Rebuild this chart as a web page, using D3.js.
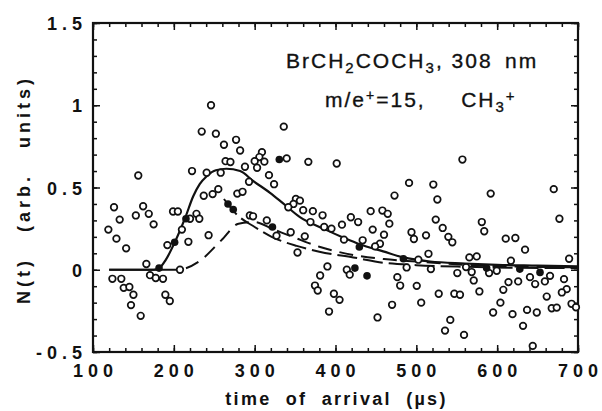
<!DOCTYPE html>
<html>
<head>
<meta charset="utf-8">
<script src="https://cdn.jsdelivr.net/npm/d3@7"></script>
<style>
  body { margin: 0; background: #fff; }
  svg { display: block; font-family: "Liberation Sans", Arial, sans-serif; }
  .tick-label { font-weight: bold; font-size: 18px; letter-spacing: 5px; fill: #111; }
  .axis-title { font-weight: bold; font-size: 18px; letter-spacing: 2.3px; word-spacing: 7px; fill: #111; }
  .note { font-size: 21px; letter-spacing: 2px; fill: #111; stroke: #111; stroke-width: 0.35px; }
</style>
</head>
<body>
<div class="chart"></div>
<script>
const svgWidth = 602;
const svgHeight = 411;

const margin = { top: 23, right: 24, bottom: 59, left: 93 };
const width = svgWidth - margin.left - margin.right;
const height = svgHeight - margin.top - margin.bottom;

// open circles (time of arrival, N(t))
const openT = [119, 126, 133, 129, 141, 153, 156, 162, 169, 175, 199, 205, 192, 210, 218, 166, 124, 135, 138, 145,
  150, 147, 159, 170.5, 177.6, 186.6, 189.5, 195, 207.6, 220, 228, 231.5, 243, 246, 234.5, 252, 262, 277, 282, 336,
  339.6, 309, 305.8, 300, 312, 303, 288, 264, 270, 317.7, 324, 293, 222.5, 240.6, 258, 237, 248, 255, 278.5, 285,
  294, 298, 315, 327, 344.6, 353, 351, 348, 341.6, 366.4, 401.5, 491, 521, 526, 473, 356, 360, 372, 384, 369,
  386, 395, 408, 419, 428, 443.5, 458, 464.6, 466.6, 446, 460, 455, 449, 433.6, 410.5, 362, 494, 497, 512, 524,
  515, 502.5, 518, 488, 390, 381, 374.6, 378, 398, 405, 392, 414, 417.6, 452, 470, 476.5, 480, 500.5, 506, 527.7,
  557, 592, 670, 677, 532.6, 539.6, 544.5, 581, 584, 610.6, 622.5, 634.5, 689, 565.6, 574.7, 617, 550.7, 561.5, 568.5, 571,
  590, 599.5, 578, 614, 626, 607.6, 640.6, 647, 659, 665.4, 682.7, 686, 680, 661.3, 547, 554, 604, 595, 619, 637,
  649, 667.5, 673.7, 692, 697.5, 542, 535.5, 559, 632, 644];
const openN = [0.244, 0.38, 0.305, 0.189, 0.13, 0.33, 0.573, 0.386, 0.34, 0.276, 0.354, 0.354, 0.15, 0.244, 0.17, 0.035, -0.055, -0.055, -0.11, -0.105,
  -0.152, -0.215, -0.28, -0.033, -0.05, -0.055, -0.152, -0.19, 0.0, 0.31, 0.34, 0.31, 0.21, 1.0, 0.84, 0.827, 0.76, 0.79, 0.725, 0.87,
  0.677, 0.715, 0.685, 0.66, 0.657, 0.62, 0.626, 0.66, 0.655, 0.575, 0.52, 0.535, 0.6, 0.59, 0.59, 0.45, 0.46, 0.49, 0.463, 0.474,
  0.33, 0.325, 0.3, 0.207, 0.228, 0.105, 0.43, 0.40, 0.38, 0.656, 0.646, 0.528, 0.518, 0.427, 0.451, 0.42, 0.362, 0.356, 0.331, 0.29,
  0.26, 0.25, 0.274, 0.319, 0.29, 0.356, 0.36, 0.34, 0.28, 0.244, 0.213, 0.158, 0.142, 0.179, 0.183, 0.203, 0.228, 0.187, 0.209, 0.305,
  0.097, 0.061, 0.004, 0.014, 0.02, -0.035, -0.096, -0.126, -0.146, -0.183, -0.254, 0, -0.03, -0.29, -0.213, -0.045, -0.096, -0.098, -0.2, -0.146,
  0.67, 0.463, 0.49, 0.31, 0.254, 0.2, 0.167, 0.29, 0.234, 0.189, 0.193, 0.122, 0.067, 0.075, 0.081, 0.055, -0.02, 0.016, -0.014, -0.065,
  -0.02, -0.006, -0.132, -0.075, -0.071, -0.122, -0.045, -0.087, -0.071, -0.037, -0.057, -0.118, -0.138, -0.163, -0.146, -0.152, -0.2, -0.26, -0.27, -0.244,
  -0.26, -0.234, -0.23, -0.207, -0.228, -0.305, -0.37, -0.396, -0.341, -0.463];

// filled circles
const filledT = [181.7, 201, 215, 267, 273.5, 322, 330.5, 429.5, 424, 439, 484, 587, 628, 653];
const filledN = [0.01, 0.167, 0.31, 0.40, 0.366, 0.26, 0.67, 0.138, 0.01, -0.037, 0.067, 0.01, 0.004, -0.016];

// solid fit curve
const solidT = [120, 140, 160, 175, 182, 190, 201, 214, 224, 232, 241, 252, 265, 282, 298, 319, 336, 356, 385, 410,
  430, 459, 484, 517, 560, 600, 650, 700];
const solidN = [0, 0, 0, 0, 0.01, 0.06, 0.165, 0.315, 0.447, 0.52, 0.57, 0.605, 0.614, 0.6, 0.54, 0.468, 0.4, 0.32, 0.25, 0.195,
  0.155, 0.112, 0.075, 0.05, 0.038, 0.03, 0.025, 0.02];

// slow dashed component
const slowT = [120, 205, 231, 259, 280, 300, 321, 352, 380, 422, 460, 500, 560, 620, 700];
const slowN = [0, 0, 0.05, 0.18, 0.28, 0.29, 0.25, 0.19, 0.14, 0.09, 0.065, 0.05, 0.03, 0.02, 0.015];

// fast dashed component
const fastT = [262, 278, 300, 321, 352, 380, 422, 460, 500, 560, 620, 700];
const fastN = [0.43, 0.335, 0.26, 0.2, 0.145, 0.11, 0.075, 0.042, 0.028, 0.018, 0.012, 0.01];

const xMajor = [100, 200, 300, 400, 500, 600, 700];
const xMinor = d3.range(100, 701, 20);
const yMajor = [-0.5, 0, 0.5, 1, 1.5];
const yMinor = d3.range(-5, 16, 1).map(d => d / 10);
const yLabels = ["-0.5", "0", "0.5", "1", "1.5"];

const svg = d3.select(".chart")
  .append("svg")
  .attr("width", svgWidth)
  .attr("height", svgHeight);

const chartGroup = svg.append("g")
  .attr("transform", `translate(${margin.left}, ${margin.top})`);

const xScale = d3.scaleLinear().domain([100, 700]).range([0, width]);
const yScale = d3.scaleLinear().domain([-0.5, 1.5]).range([height, 0]);

// ticks on all four sides, pointing inward
function tickAxis(axis, values, size) {
  return axis.tickValues(values).tickSize(size).tickFormat("");
}
const ticks = [
  [d3.axisBottom(xScale), xMinor, -4, `translate(0, ${height})`],
  [d3.axisBottom(xScale), xMajor, -7, `translate(0, ${height})`],
  [d3.axisTop(xScale), xMinor, -4, "translate(0, 0)"],
  [d3.axisTop(xScale), xMajor, -7, "translate(0, 0)"],
  [d3.axisLeft(yScale), yMinor, -4, "translate(0, 0)"],
  [d3.axisLeft(yScale), yMajor, -7, "translate(0, 0)"],
  [d3.axisRight(yScale), yMinor, -4, `translate(${width}, 0)`],
  [d3.axisRight(yScale), yMajor, -7, `translate(${width}, 0)`]
];
ticks.forEach(t => {
  const g = chartGroup.append("g")
    .attr("transform", t[3])
    .call(tickAxis(t[0], t[1], t[2]));
  g.select(".domain").remove();
  g.selectAll("line").attr("stroke", "#111").attr("stroke-width", 1.5);
});

// frame
chartGroup.append("rect")
  .attr("width", width)
  .attr("height", height)
  .attr("fill", "none")
  .attr("stroke", "#111")
  .attr("stroke-width", 2.2);

// tick labels
chartGroup.selectAll(".xlab")
  .data(xMajor)
  .enter()
  .append("text")
  .attr("class", "tick-label")
  .attr("x", d => xScale(d) + 2.5)
  .attr("y", height + 25)
  .attr("text-anchor", "middle")
  .text(d => d);

chartGroup.selectAll(".ylab")
  .data(yMajor)
  .enter()
  .append("text")
  .attr("class", "tick-label")
  .attr("x", -6)
  .attr("y", d => yScale(d) + 7)
  .attr("text-anchor", "end")
  .text((d, i) => yLabels[i]);

// curves
const line = d3.line()
  .x(d => xScale(d[0]))
  .y(d => yScale(d[1]))
  .curve(d3.curveMonotoneX);

chartGroup.append("path")
  .datum(solidT.map((t, i) => [t, solidN[i]]))
  .attr("d", line)
  .attr("fill", "none")
  .attr("stroke", "#111")
  .attr("stroke-width", 2.2);

const slowDash = "69,8" + ",14,8".repeat(60);
chartGroup.append("path")
  .datum(slowT.map((t, i) => [t, slowN[i]]))
  .attr("d", line)
  .attr("fill", "none")
  .attr("stroke", "#111")
  .attr("stroke-width", 2)
  .attr("stroke-dasharray", slowDash);

chartGroup.append("path")
  .datum(fastT.map((t, i) => [t, fastN[i]]))
  .attr("d", line)
  .attr("fill", "none")
  .attr("stroke", "#111")
  .attr("stroke-width", 2)
  .attr("stroke-dasharray", "20,6");

// data points
chartGroup.selectAll(".open")
  .data(openT.map((t, i) => [t, openN[i]]))
  .enter()
  .append("circle")
  .attr("cx", d => xScale(d[0]))
  .attr("cy", d => yScale(d[1]))
  .attr("r", 3.3)
  .attr("fill", "#fff")
  .attr("stroke", "#111")
  .attr("stroke-width", 1.7);

chartGroup.selectAll(".filled")
  .data(filledT.map((t, i) => [t, filledN[i]]))
  .enter()
  .append("circle")
  .attr("cx", d => xScale(d[0]))
  .attr("cy", d => yScale(d[1]))
  .attr("r", 3.8)
  .attr("fill", "#111");

// axis titles
svg.append("text")
  .attr("class", "axis-title")
  .attr("x", margin.left + width / 2 + 1)
  .attr("y", 405)
  .attr("text-anchor", "middle")
  .text("time of arrival (\u00b5s)");

svg.append("text")
  .attr("class", "axis-title")
  .attr("transform", `translate(30, ${margin.top + yScale(0.5) + 2}) rotate(-90)`)
  .attr("text-anchor", "middle")
  .style("letter-spacing", "4px")
  .style("word-spacing", "16px")
  .text("N(t) (arb. units)");

// annotation
const note1 = svg.append("text")
  .attr("class", "note")
  .attr("x", 286)
  .attr("y", 68);
note1.append("tspan").text("BrCH");
note1.append("tspan").attr("dy", 5).attr("font-size", 15).text("2");
note1.append("tspan").attr("dy", -5).text("COCH");
note1.append("tspan").attr("dy", 5).attr("font-size", 15).text("3");
note1.append("tspan").attr("dy", -5).text(", 308\u2002nm");

const note2 = svg.append("text")
  .attr("class", "note")
  .attr("x", 325)
  .attr("y", 107);
note2.append("tspan").text("m/e");
note2.append("tspan").attr("dy", -7).attr("font-size", 14).text("+");
note2.append("tspan").attr("dy", 7).text("=15,\u2003\u2002CH");
note2.append("tspan").attr("dy", 5).attr("font-size", 15).text("3");
note2.append("tspan").attr("dy", -11).attr("font-size", 15).text("+");
</script>
</body>
</html>
